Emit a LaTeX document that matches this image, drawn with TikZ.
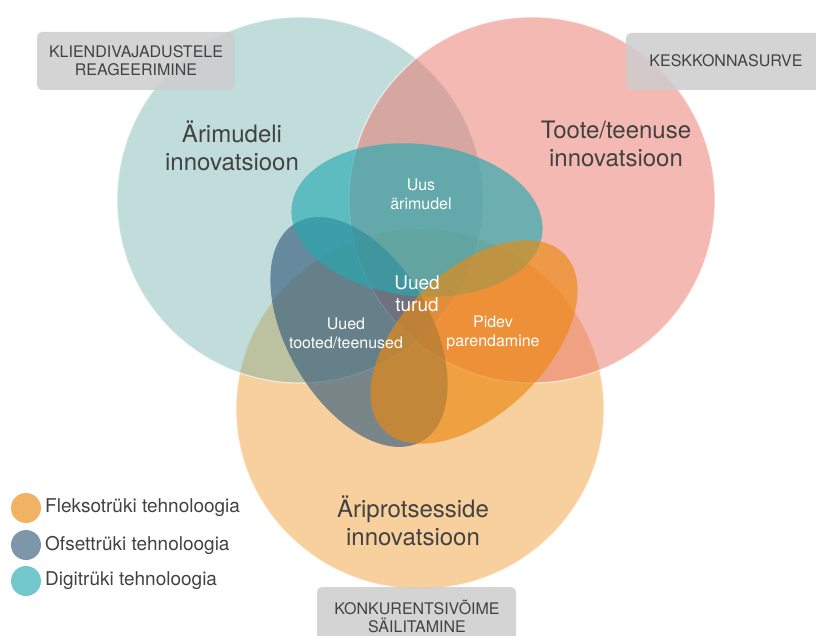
\documentclass[tikz,border=0pt]{standalone}
\usepackage{fontspec}
\setmainfont{TeX Gyre Heros}

% base colours (used with transparency)
\definecolor{tealbase}{RGB}{100,170,165}
\definecolor{pinkbase}{RGB}{233,115,101}
\definecolor{orangebase}{RGB}{241,161,61}
\definecolor{digi}{RGB}{38,170,177}
\definecolor{ofset}{RGB}{55,94,125}
\definecolor{flekso}{RGB}{235,137,17}
\definecolor{tagfill}{RGB}{205,205,205}
\definecolor{labeltext}{RGB}{66,66,66}

\tikzset{
  bigset/.style={fill opacity=#1},
  rim/.style={white, draw opacity=0.6, line width=1.2pt},
  techset/.style={fill opacity=0.65},
  biglabel/.style={text=labeltext, align=center, font=\fontsize{24}{28}\selectfont},
  innerlabel/.style={text=white, align=center, font=\fontsize{16}{19}\selectfont},
  centrelabel/.style={text=white, align=center, font=\fontsize{19}{22}\selectfont},
  tagtext/.style={text=labeltext, align=center, font=\fontsize{16}{18}\selectfont},
  tagbox/.style={fill=tagfill, fill opacity=0.85, rounded corners=5pt},
  legenddot/.style={circle, fill opacity=0.65, minimum size=30pt, inner sep=0pt},
  legendtext/.style={anchor=west, text=labeltext, font=\fontsize{19}{20}\selectfont, inner sep=0pt}
}

\begin{document}
\begin{tikzpicture}[x=1pt, y=-1pt]
\useasboundingbox (0,0) rectangle (816,636);

% three innovation areas
\fill[orangebase, bigset=0.5] (420,409) ellipse [x radius=184, y radius=180];
\draw[rim] (420,409) ellipse [x radius=184, y radius=180];
\fill[tealbase, bigset=0.4] (300,200) circle [radius=183];
\draw[rim] (300,200) circle [radius=183];
\fill[pinkbase, bigset=0.5] (532,200) circle [radius=183];
\draw[rim] (532,200) circle [radius=183];

% printing technologies
\fill[ofset, techset, rotate around={-60:(359,332)}] (359,332) ellipse [x radius=126, y radius=72];
\fill[digi, techset, rotate around={-6:(417,220)}] (417,220) ellipse [x radius=126, y radius=76];
\fill[flekso, techset, rotate around={44:(474,342)}] (474,342) ellipse [x radius=126, y radius=72];

% area labels
\node[biglabel] (arimudel) at (232,146) {Ärimudeli\\innovatsioon};
\node[biglabel] (toode) at (616,144) {Toote/teenuse\\innovatsioon};
\node[biglabel] (protsess) at (413,521) {Äriprotsesside\\innovatsioon};

% overlap labels
\node[innerlabel] (uusmudel) at (421,194) {Uus\\ärimudel};
\node[centrelabel] (turud) at (417,294) {Uued\\turud};
\node[innerlabel] (tooted) at (346,333) {Uued\\tooted/teenused};
\node[innerlabel] (pidev) at (493,333) {Pidev\\parendamine};

% drivers
\path[tagbox] (37,32) rectangle (235,90);
\node[tagtext] (klient) at (136,61) {KLIENDIVAJADUSTELE\\REAGEERIMINE};
\path[tagbox] (626,33) rectangle (840,90);
\node[tagtext] (keskkond) at (726,61) {KESKKONNASURVE};
\path[tagbox] (317,587) rectangle (516,650);
\node[tagtext] (konkurents) at (417,616) {KONKURENTSIVÕIME\\SÄILITAMINE};

% legend
\node[legenddot, fill=flekso] (lf) at (26,508) {};
\node[legenddot, fill=ofset] (lo) at (26,545) {};
\node[legenddot, fill=digi] (ld) at (26,581) {};
\node[legendtext] (tf) at (45,508) {Fleksotrüki tehnoloogia};
\node[legendtext] (to) at (45,545) {Ofsettrüki tehnoloogia};
\node[legendtext] (td) at (45,581) {Digitrüki tehnoloogia};
\end{tikzpicture}
\end{document}
